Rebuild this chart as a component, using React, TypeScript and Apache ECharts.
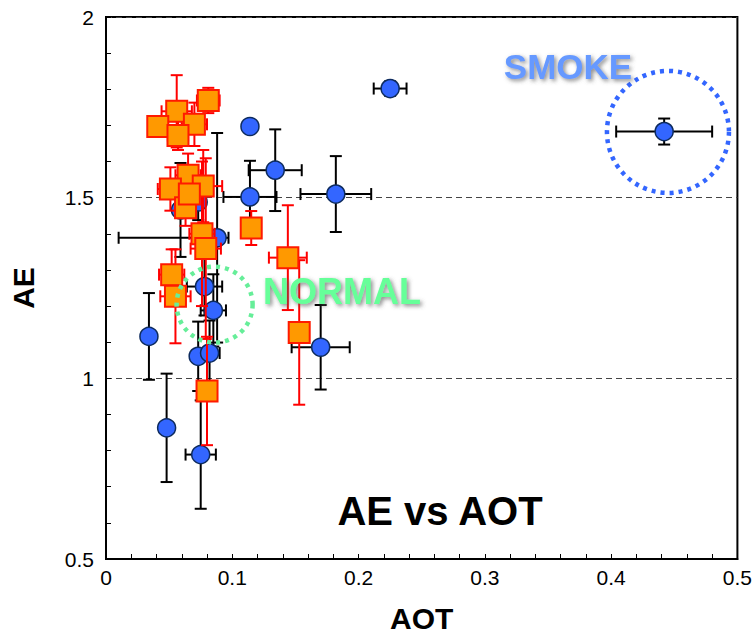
import React, { useEffect, useRef } from "react";
import * as echarts from "echarts";

// Blue circles (AOT, AE) with black error bars
const aotA = [0.225, 0.442, 0.114, 0.134, 0.114, 0.182, 0.170, 0.034, 0.048, 0.075, 0.073, 0.082, 0.085, 0.078, 0.088, 0.073, 0.059];
const aeA = [1.802, 1.683, 1.697, 1.576, 1.502, 1.510, 1.086, 1.116, 0.863, 0.789, 1.061, 1.070, 1.188, 1.254, 1.389, 1.488, 1.466];
const aotErrMinusA = [0.013, 0.038, 0, 0.021, 0.021, 0.028, 0.023, 0, 0, 0.012, 0, 0.008, 0.01, 0.014, 0.078, 0, 0];
const aotErrPlusA = [0.013, 0.038, 0, 0.021, 0.021, 0.028, 0.023, 0, 0, 0.012, 0, 0.008, 0.01, 0.014, 0.009, 0, 0];
const aeErrA = [0.02, 0.036, 0, 0.113, 0.1, 0.105, 0.117, 0.12, 0.15, 0.15, 0.096, 0.09, 0.1, 0.08, 0.29, 0.05, 0.13];

// Orange squares (AOT, AE) with red error bars
const aotB = [0.081, 0.056, 0.041, 0.070, 0.057, 0.065, 0.051, 0.077, 0.063, 0.066, 0.076, 0.079, 0.115, 0.052, 0.055, 0.080, 0.144, 0.153];
const aeB = [1.769, 1.739, 1.697, 1.703, 1.672, 1.562, 1.524, 1.532, 1.472, 1.510, 1.400, 1.359, 1.416, 1.287, 1.227, 0.965, 1.334, 1.127];
const aotErrB = [0.009, 0.012, 0, 0.01, 0.008, 0.01, 0.01, 0.015, 0.008, 0.008, 0.01, 0.012, 0.006, 0.01, 0.012, 0.004, 0.015, 0.004];
const aeErrB = [0.035, 0.1, 0, 0.06, 0.04, 0.06, 0.06, 0.1, 0.05, 0.05, 0.2, 0.25, 0.047, 0.07, 0.13, 0.15, 0.145, 0.2];

const xTicks = [0, 0.1, 0.2, 0.3, 0.4, 0.5];
const yTicks = [0.5, 1, 1.5, 2];

// Annotation anchors in data space
const smokeCenter = [0.445, 1.682];
const normalCenter = [0.086, 1.204];

const FONT = "'Liberation Sans', Arial, sans-serif";

function errRender(color: string) {
  return (params: any, api: any) => {
    const x = api.value(0), y = api.value(1);
    const exm = api.value(2), exp = api.value(3), ey = api.value(4);
    const c = api.coord([x, y]);
    const cap = 6;
    const style = { stroke: color, lineWidth: 2 };
    const children: any[] = [];
    if (ey > 0) {
      const t = api.coord([x, y + ey]);
      const b = api.coord([x, y - ey]);
      children.push({ type: "line", shape: { x1: c[0], y1: t[1], x2: c[0], y2: b[1] }, style });
      children.push({ type: "line", shape: { x1: c[0] - cap, y1: t[1], x2: c[0] + cap, y2: t[1] }, style });
      children.push({ type: "line", shape: { x1: c[0] - cap, y1: b[1], x2: c[0] + cap, y2: b[1] }, style });
    }
    if (exm > 0) {
      const l = api.coord([x - exm, y]);
      children.push({ type: "line", shape: { x1: l[0], y1: c[1], x2: c[0], y2: c[1] }, style });
      children.push({ type: "line", shape: { x1: l[0], y1: c[1] - cap, x2: l[0], y2: c[1] + cap }, style });
    }
    if (exp > 0) {
      const r = api.coord([x + exp, y]);
      children.push({ type: "line", shape: { x1: c[0], y1: c[1], x2: r[0], y2: c[1] }, style });
      children.push({ type: "line", shape: { x1: r[0], y1: c[1] - cap, x2: r[0], y2: c[1] + cap }, style });
    }
    return { type: "group", children };
  };
}

export default function App() {
  const ref = useRef<HTMLDivElement>(null);
  useEffect(() => {
    document.body.style.margin = "0";
    const chart = echarts.init(ref.current!, null, { renderer: "svg" });
    const dataA = aotA.map((x, i) => [x, aeA[i], aotErrMinusA[i], aotErrPlusA[i], aeErrA[i]]);
    const dataB = aotB.map((x, i) => [x, aeB[i], aotErrB[i], aotErrB[i], aeErrB[i]]);
    chart.setOption({
      animation: false,
      backgroundColor: "#ffffff",
      textStyle: { fontFamily: FONT },
      grid: { left: 105, right: 17, top: 17, bottom: 76, show: true, borderColor: "#000", borderWidth: 2 },
      xAxis: {
        type: "value",
        min: xTicks[0],
        max: xTicks[xTicks.length - 1],
        interval: 0.1,
        name: "AOT",
        nameLocation: "middle",
        nameGap: 44,
        nameTextStyle: { fontSize: 30, fontWeight: "bold", color: "#000", fontFamily: FONT },
        axisLine: { lineStyle: { color: "#000", width: 2 } },
        axisTick: { inside: true, length: 5, lineStyle: { color: "#000" } },
        minorTick: { show: true, splitNumber: 5, length: 5, lineStyle: { color: "#000" } },
        axisLabel: { fontSize: 21, color: "#000", margin: 8, fontFamily: FONT, formatter: (v: number) => String(+v.toFixed(2)) },
        splitLine: { show: false },
      },
      yAxis: {
        type: "value",
        min: yTicks[0],
        max: yTicks[yTicks.length - 1],
        interval: 0.5,
        name: "AE",
        nameLocation: "middle",
        nameGap: 68,
        nameTextStyle: { fontSize: 30, fontWeight: "bold", color: "#000", fontFamily: FONT },
        axisLine: { lineStyle: { color: "#000", width: 2 } },
        axisTick: { inside: true, length: 5, lineStyle: { color: "#000" } },
        minorTick: { show: true, splitNumber: 5, length: 5, lineStyle: { color: "#000" } },
        axisLabel: { fontSize: 21, color: "#000", margin: 12, fontFamily: FONT },
        splitLine: { show: true, lineStyle: { color: "#444", width: 1, type: [6, 4] } },
      },
      series: [
        { type: "custom", renderItem: errRender("#000000"), data: dataA, encode: { x: 0, y: 1 }, clip: false, z: 2 },
        {
          type: "scatter", data: dataA.map((d) => [d[0], d[1]]), symbol: "circle", symbolSize: 18, z: 3,
          itemStyle: { color: "#3366ff", borderColor: "#0d2b5e", borderWidth: 1.5, opacity: 1 },
        },
        { type: "custom", renderItem: errRender("#ff0000"), data: dataB, encode: { x: 0, y: 1 }, clip: false, z: 4 },
        {
          type: "scatter", data: dataB.map((d) => [d[0], d[1]]), symbol: "rect", symbolSize: 21, z: 5,
          itemStyle: { color: "#ff9900", borderColor: "#ff1a00", borderWidth: 2, opacity: 1 },
        },
      ],
    });
    const sc = chart.convertToPixel({ gridIndex: 0 }, smokeCenter) as number[];
    const nc = chart.convertToPixel({ gridIndex: 0 }, normalCenter) as number[];
    const shadow = { textShadowColor: "rgba(90,90,90,0.7)", textShadowBlur: 4, textShadowOffsetX: 2, textShadowOffsetY: 2 };
    chart.setOption({
      graphic: [
        {
          type: "circle", z: 10, shape: { cx: sc[0], cy: sc[1], r: 61 },
          style: { fill: "none", stroke: "#3366ff", lineWidth: 4.5, lineDash: [4, 5] },
        },
        {
          type: "circle", z: 10, shape: { cx: nc[0], cy: nc[1], r: 38 },
          style: { fill: "none", stroke: "#66ee99", lineWidth: 4.5, lineDash: [4, 5] },
        },
        {
          type: "text", z: 11, x: 568, y: 66,
          style: { text: "SMOKE", fill: "#6699ff", font: `bold 35px ${FONT}`, textAlign: "center", textVerticalAlign: "middle", ...shadow },
        },
        {
          type: "text", z: 11, x: 342, y: 291,
          style: { text: "NORMAL", fill: "#66ff99", font: `bold 36px ${FONT}`, textAlign: "center", textVerticalAlign: "middle", ...shadow },
        },
        {
          type: "text", z: 11, x: 440, y: 511,
          style: { text: "AE vs AOT", fill: "#000", font: `bold 40px ${FONT}`, textAlign: "center", textVerticalAlign: "middle" },
        },
      ],
    });
    return () => chart.dispose();
  }, []);
  return <div ref={ref} style={{ width: 755, height: 638 }} />;
}
